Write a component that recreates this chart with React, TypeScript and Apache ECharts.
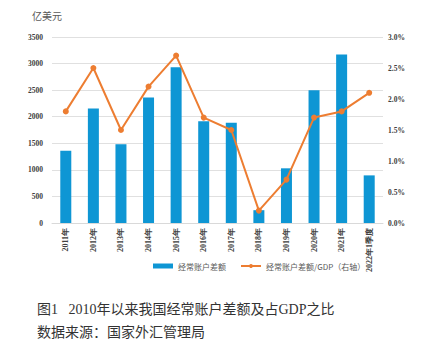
import React, { useEffect, useRef } from "react";
import * as echarts from "echarts";

const categories = ["2011年", "2012年", "2013年", "2014年", "2015年", "2016年", "2017年", "2018年", "2019年", "2020年", "2021年", "2022年1季度"];
const balance = [1361, 2154, 1482, 2360, 2930, 1913, 1887, 241, 1029, 2499, 3173, 896];
const ratio = [1.8, 2.5, 1.5, 2.2, 2.7, 1.7, 1.5, 0.2, 0.7, 1.7, 1.8, 2.1];
const leftTicks = [0, 500, 1000, 1500, 2000, 2500, 3000, 3500];
const rightTicks = ["0.0%", "0.5%", "1.0%", "1.5%", "2.0%", "2.5%", "3.0%"];

const serif = "'Liberation Serif', 'DejaVu Serif', serif";
const sans = "'Noto Sans CJK SC', 'Noto Sans', sans-serif";
const cjkSerif = "'Liberation Serif', 'Noto Sans CJK SC', serif";

export default function App() {
  const ref = useRef<HTMLDivElement>(null);
  useEffect(() => {
    if (!ref.current) return;
    const chart = echarts.init(ref.current, null, { renderer: "svg" });
    chart.setOption({
      animation: false,
      backgroundColor: "#ffffff",
      grid: { left: 52, right: 49, top: 37, bottom: 132, containLabel: false },
      legend: {
        bottom: 80,
        left: 148,
        itemGap: 14,
        itemWidth: 20,
        itemHeight: 5,
        textStyle: { fontFamily: sans, fontSize: 8, color: "#595959" },
        data: [
          { name: "经常账户差额", icon: "rect" },
          { name: "经常账户差额/GDP（右轴）" },
        ],
      },
      graphic: [
        { type: "text", left: 32, top: 10, style: { text: "亿美元", font: `10px ${sans}`, fill: "#595959" } },
        { type: "text", left: 37, top: 302, style: { text: "图1   2010年以来我国经常账户差额及占GDP之比", font: `14px ${cjkSerif}`, fill: "#333333" } },
        { type: "text", left: 37, top: 325, style: { text: "数据来源：国家外汇管理局", font: `14px ${cjkSerif}`, fill: "#333333" } },
      ],
      xAxis: {
        type: "category",
        data: categories,
        axisTick: { show: false },
        axisLine: { show: true, lineStyle: { color: "#d9d9d9" } },
        axisLabel: {
          rotate: 90,
          interval: 0,
          fontFamily: serif,
          fontWeight: "bold",
          fontSize: 8,
          color: "#404040",
          margin: 5,
        },
      },
      yAxis: [
        {
          type: "value",
          min: 0,
          max: 3500,
          interval: 500,
          axisLine: { show: false },
          axisTick: { show: false },
          splitLine: { lineStyle: { color: "#e0e0e0" } },
          axisLabel: {
            fontFamily: serif,
            fontWeight: "bold",
            fontSize: 7.5,
            color: "#404040",
            margin: 9,
            formatter: (v: number) => (leftTicks.includes(v) ? String(v) : ""),
          },
        },
        {
          type: "value",
          min: 0,
          max: 3,
          interval: 0.5,
          axisLine: { show: false },
          axisTick: { show: false },
          splitLine: { show: false },
          axisLabel: {
            fontFamily: serif,
            fontWeight: "bold",
            fontSize: 7.5,
            color: "#404040",
            margin: 5,
            formatter: (v: number) => rightTicks[Math.round(v / 0.5)] ?? "",
          },
        },
      ],
      series: [
        {
          name: "经常账户差额",
          type: "bar",
          data: balance,
          barWidth: 11,
          itemStyle: { color: "#0E96D4" },
        },
        {
          name: "经常账户差额/GDP（右轴）",
          type: "line",
          yAxisIndex: 1,
          data: ratio,
          symbol: "circle",
          symbolSize: 6,
          lineStyle: { color: "#ED7D31", width: 2 },
          itemStyle: { color: "#ED7D31" },
        },
      ],
    });
    return () => chart.dispose();
  }, []);
  return <div ref={ref} style={{ position: "fixed", left: 0, top: 0, width: 432, height: 355 }} />;
}
